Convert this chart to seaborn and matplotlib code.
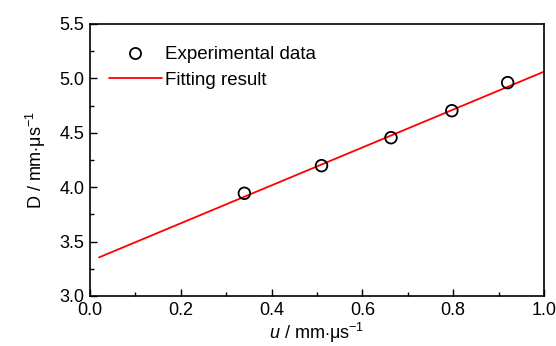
import matplotlib
matplotlib.use("Agg")
import matplotlib.pyplot as plt
import seaborn as sns
import pandas as pd
from matplotlib.ticker import MultipleLocator
from matplotlib.lines import Line2D

sns.set_theme(style="ticks")
plt.rcParams['font.family'] = ['Liberation Sans', 'DejaVu Sans']
plt.rcParams['mathtext.fontset'] = 'custom'
plt.rcParams['mathtext.rm'] = 'Liberation Sans'
plt.rcParams['mathtext.it'] = 'Liberation Sans:italic'
plt.rcParams['text.color'] = 'black'
plt.rcParams['axes.labelcolor'] = 'black'
plt.rcParams['xtick.color'] = 'black'
plt.rcParams['ytick.color'] = 'black'

u_exp = [0.340, 0.510, 0.663, 0.797, 0.920]
D_exp = [3.944, 4.198, 4.455, 4.703, 4.961]
u_fit = [0.02, 1.0]
D_fit = [3.355, 5.062]

df_exp = pd.DataFrame({"u": u_exp, "D": D_exp})
df_fit = pd.DataFrame({"u": u_fit, "D": D_fit})

fig = plt.figure(figsize=(5.56, 3.46), dpi=100)
ax = fig.add_axes([90/556, 1-296/346, (544-90)/556, (296-24)/346])

sns.lineplot(data=df_fit, x="u", y="D", color="#ff0000", linewidth=1.3, ax=ax)
sns.scatterplot(data=df_exp, x="u", y="D", marker="o", s=70, facecolor="none",
                edgecolor="black", linewidth=1.3, ax=ax, zorder=3)

ax.set_xlim(0, 1.0)
ax.set_ylim(3.0, 5.5)
ax.xaxis.set_major_locator(MultipleLocator(0.2))
ax.xaxis.set_minor_locator(MultipleLocator(0.1))
ax.yaxis.set_major_locator(MultipleLocator(0.5))
ax.yaxis.set_minor_locator(MultipleLocator(0.25))
ax.set_xticklabels([f"{v:.1f}" for v in ax.get_xticks()])
ax.set_yticklabels([f"{v:.1f}" for v in ax.get_yticks()])
ax.tick_params(which="major", direction="in", length=5, width=1, labelsize=13, colors="black", pad=4)
ax.tick_params(which="minor", direction="in", length=3, width=1, colors="black")
for s in ax.spines.values():
    s.set_linewidth(1.2)
    s.set_color("black")

ax.set_xlabel(r"$\it{u}$ / mm$\cdot$μs$^{-1}$", fontsize=13, labelpad=2)
ax.set_ylabel(r"D / mm$\cdot$μs$^{-1}$", fontsize=13, labelpad=8)

handles = [
    Line2D([], [], marker="o", linestyle="none", markerfacecolor="none",
           markeredgecolor="black", markersize=8, markeredgewidth=1.3),
    Line2D([], [], color="#ff0000", linewidth=1.3),
]
ax.legend(handles, ["Experimental data", "Fitting result"], loc="upper left",
          bbox_to_anchor=(0.042, 0.918), frameon=False, fontsize=13.5,
          handlelength=2.8, handletextpad=0.2, labelspacing=0.45, borderaxespad=0,
          borderpad=0)

fig.savefig("out.png", dpi=100)
